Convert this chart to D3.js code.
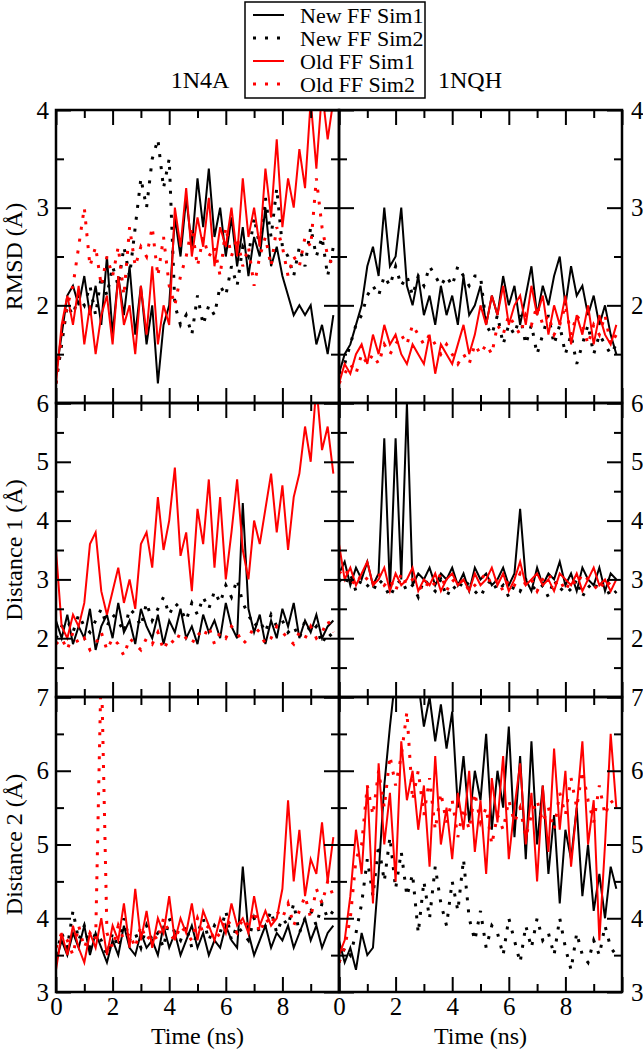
<!DOCTYPE html>
<html><head><meta charset="utf-8">
<script src="https://cdn.jsdelivr.net/npm/d3@7"></script>
<style>
body{margin:0;background:#fff}
svg{display:block}
text{font-family:"Liberation Serif","Times New Roman",serif;fill:#000}
</style>
</head><body>
<svg id="c" width="643" height="1050"></svg>
<script>
// ---------------- DATA ----------------
const times = [0,0.2,0.4,0.6,0.8,1.0,1.2,1.4,1.6,1.8,2.0,2.2,2.4,2.6,2.8,3.0,3.2,3.4,3.6,3.8,
  4.0,4.2,4.4,4.6,4.8,5.0,5.2,5.4,5.6,5.8,6.0,6.2,6.4,6.6,6.8,7.0,7.2,7.4,7.6,7.8,
  8.0,8.2,8.4,8.6,8.8,9.0,9.2,9.4,9.6,9.8];
const seriesNames = ["New FF Sim1","New FF Sim2","Old FF Sim1","Old FF Sim2"];
const seriesColors = ["#000000","#000000","#ff0000","#ff0000"];
const seriesDash = [null,"3,9",null,"3,9"];
const systems = ["1N4A","1NQH"];
const rowLabels = ["RMSD (Å)","Distance 1 (Å)","Distance 2 (Å)"];
const rowDomains = [[1,4],[1,6],[3,7]];
const rowTickLabels = [[2,3,4],[2,3,4,5,6],[3,4,5,6,7]];
const xTickLabels = [0,2,4,6,8];
const xLabel = "Time (ns)";

// RMSD 1N4A
const rmsd1N4A_new1 = [1.3,1.7,2.1,2.2,2.0,2.3,1.9,2.2,1.8,2.5, 1.7,2.3,1.9,2.4,1.7,2.2,1.6,2.0,1.2,1.8, 2.0,2.9,2.5,3.1,2.6,3.3,2.8,3.4,2.7,3.0, 2.5,2.9,2.4,2.8,2.3,2.7,2.5,3.0,2.4,2.6, 2.3,2.1,1.9,2.0,1.9,2.0,1.6,1.8,1.5,1.9];
const rmsd1N4A_new2 = [1.2,1.6,2.0,1.9,2.1,2.0,2.2,1.9,2.3,2.1, 2.4,2.2,2.6,2.3,2.8,3.3,3.0,3.5,3.7,3.2, 3.5,2.0,1.8,1.9,1.7,2.1,1.8,2.0,1.9,2.2, 2.1,2.4,2.2,2.6,2.5,2.9,2.6,3.1,2.7,3.2, 2.6,2.5,2.3,2.6,2.4,2.8,2.5,2.7,2.3,2.6];
const rmsd1N4A_old1 = [1.2,1.8,2.1,1.8,2.2,1.6,2.0,1.5,1.9,2.1, 1.6,2.3,1.8,2.0,1.5,2.2,1.7,2.4,1.6,2.0, 1.8,3.0,2.6,3.2,2.5,2.9,2.6,3.1,2.4,2.8, 2.6,3.0,2.5,3.3,2.7,3.0,2.6,3.4,2.9,3.7, 2.8,3.3,3.0,3.6,3.2,4.1,3.4,4.2,3.7,4.1];
const rmsd1N4A_old2 = [1.2,1.7,2.0,2.2,2.6,3.0,2.4,2.6,2.2,2.5, 2.3,2.6,2.1,2.8,2.4,2.6,2.5,2.8,2.3,2.7, 2.2,2.0,2.3,2.5,2.8,2.4,2.7,2.5,2.6,2.3, 2.8,2.5,2.7,2.4,2.6,2.2,2.5,2.7,2.4,2.8, 2.6,2.3,2.5,2.4,2.7,2.6,3.3,2.8,2.5,2.4];
// RMSD 1NQH
const rmsd1NQH_new1 = [1.3,1.5,1.6,1.8,2.0,2.4,2.6,2.3,3.0,2.4, 2.5,3.0,2.2,2.0,2.3,1.9,2.1,1.8,2.2,1.9, 2.1,1.8,2.3,1.9,2.0,2.2,1.8,2.1,1.9,2.3, 2.0,2.2,1.8,2.1,2.4,1.9,2.2,2.0,2.3,2.5, 2.0,2.4,2.1,2.2,1.9,2.1,1.8,2.0,1.7,1.5];
const rmsd1NQH_new2 = [1.3,1.4,1.6,1.8,1.9,2.1,2.2,2.1,2.3,2.2, 2.4,2.2,2.3,2.1,2.3,2.2,2.4,2.3,2.2,2.3, 2.2,2.4,2.3,2.2,2.3,2.3,1.8,1.7,1.9,1.6, 1.8,1.7,1.9,1.6,1.8,1.5,1.7,1.9,1.6,1.8, 1.5,1.7,1.4,1.6,1.8,1.5,1.7,1.6,1.5,1.6];
const rmsd1NQH_old1 = [1.2,1.4,1.3,1.5,1.6,1.4,1.7,1.5,1.8,1.6, 1.7,1.5,1.4,1.6,1.5,1.4,1.7,1.3,1.6,1.5, 1.4,1.6,1.8,1.5,1.7,2.0,1.8,2.1,1.9,2.2, 1.8,2.0,2.1,1.8,2.2,1.9,2.1,1.7,2.0,1.8, 2.1,1.6,1.9,1.7,2.0,1.6,1.9,1.7,1.6,1.8];
const rmsd1NQH_old2 = [1.2,1.3,1.4,1.3,1.5,1.4,1.5,1.4,1.6,1.5, 1.6,1.7,1.6,1.8,1.7,1.6,1.7,1.6,1.5,1.6, 1.5,1.4,1.5,1.4,1.6,1.5,1.6,1.5,1.8,1.7, 1.9,1.8,1.7,1.9,1.8,2.0,1.8,1.9,1.7,1.8, 2.0,1.7,1.9,1.8,1.6,1.8,1.7,1.9,1.6,1.7];
// Distance 1 1N4A
const dist1_1N4A_new1 = [2.3,2.0,2.4,1.9,2.2,2.0,2.5,1.8,2.2,2.4, 2.0,2.6,2.1,2.3,1.9,2.5,2.2,2.0,2.4,1.9, 2.3,2.1,2.5,2.0,2.2,1.9,2.4,2.1,2.3,2.0, 2.6,2.2,2.0,4.3,2.5,2.1,2.4,1.9,2.3,2.0, 2.5,2.2,2.6,2.0,2.3,2.1,2.4,2.0,2.2,2.3];
const dist1_1N4A_new2 = [2.0,2.2,2.3,2.1,2.4,2.2,2.1,2.3,2.5,2.2, 2.4,2.3,2.1,2.5,2.4,2.2,2.6,2.3,2.5,2.7, 2.4,2.6,2.5,2.3,2.6,2.4,2.7,2.5,2.8,2.6, 2.9,2.7,3.0,2.6,2.4,2.2,2.3,2.1,2.4,2.2, 2.3,2.1,2.2,2.0,2.3,2.1,2.2,1.9,2.1,2.0];
const dist1_1N4A_old1 = [3.5,2.2,2.0,2.4,2.2,2.6,3.6,3.8,2.8,2.4, 2.8,3.2,2.6,3.0,2.5,3.6,3.8,3.2,4.4,3.5, 4.0,4.9,3.4,3.8,2.8,4.2,3.6,4.7,3.2,4.4, 3.0,3.8,4.7,3.5,3.0,4.0,3.6,4.2,4.8,3.8, 4.6,3.5,4.4,4.8,5.6,5.0,6.3,5.2,5.6,4.8];
const dist1_1N4A_old2 = [1.9,2.0,1.8,2.1,1.9,2.0,1.8,1.9,2.1,1.8, 2.0,1.9,1.7,2.0,1.9,1.8,2.0,1.9,2.1,1.8, 2.0,1.9,2.1,2.0,1.9,2.1,2.0,2.2,1.9,2.1, 2.0,2.2,2.1,1.9,2.0,2.2,2.1,1.9,2.0,2.2, 2.1,2.0,1.9,2.1,2.0,2.2,2.0,2.1,2.3,2.1];
// Distance 1 1NQH
const dist1_1NQH_new1 = [3.1,3.3,2.9,3.2,3.0,3.3,2.9,3.1,5.4,2.8, 5.4,3.0,6.0,2.9,3.1,3.0,3.2,2.9,3.1,3.0, 3.2,2.9,3.1,2.8,3.2,3.0,3.1,2.9,3.0,3.2, 2.9,3.1,4.2,3.0,2.8,3.2,2.9,3.1,3.0,3.3, 2.9,3.1,2.8,3.2,3.0,2.9,3.2,2.8,3.1,3.0];
const dist1_1NQH_new2 = [3.0,2.9,3.1,2.8,3.0,2.9,2.8,3.0,2.9,2.7, 2.9,3.0,2.8,2.9,2.7,3.0,2.9,2.8,3.0,2.7, 2.9,2.8,3.0,2.9,2.8,2.7,2.9,3.0,2.8,2.9, 2.7,2.9,2.8,3.0,2.9,2.8,2.9,2.7,3.0,2.8, 2.9,2.8,3.0,2.7,2.9,2.8,3.0,2.9,2.7,2.8];
const dist1_1NQH_old1 = [3.6,3.0,3.2,2.9,3.1,3.3,2.9,3.0,3.2,2.8, 3.1,2.9,3.0,3.2,2.8,3.0,2.9,3.1,2.8,3.0, 3.1,2.9,3.0,2.8,3.1,2.9,3.0,3.2,2.9,3.1, 2.8,3.0,3.3,2.9,3.0,3.1,2.9,3.0,2.8,3.1, 3.0,2.9,3.1,2.8,3.0,3.2,2.9,3.0,2.8,3.0];
const dist1_1NQH_old2 = [3.1,3.2,3.0,2.9,3.1,3.0,2.9,3.1,2.9,3.0, 2.8,3.1,2.9,3.0,2.9,2.8,3.0,2.9,3.1,2.8, 3.0,2.9,3.0,2.8,2.9,3.0,3.1,2.9,3.0,2.8, 3.0,2.9,3.1,2.9,3.0,2.8,3.0,3.1,2.9,3.0, 2.8,3.0,2.9,3.1,3.0,2.9,2.8,3.0,2.9,2.9];
// Distance 2 1N4A
const dist2_1N4A_new1 = [3.4,3.7,3.5,3.8,3.6,3.9,3.5,3.8,3.6,3.4, 3.7,3.5,3.9,3.6,3.5,3.8,3.6,3.7,3.5,3.9, 3.6,3.8,3.5,3.7,3.9,3.6,3.8,3.5,3.7,3.6, 3.9,3.7,3.6,4.7,3.8,3.5,3.7,3.9,3.6,3.8, 3.7,3.9,3.6,3.8,4.0,3.7,3.9,3.6,3.8,3.9];
const dist2_1N4A_new2 = [3.5,3.8,3.6,4.1,3.7,3.9,3.6,3.8,3.7,3.5, 3.8,3.6,4.0,3.7,3.8,3.6,3.9,3.7,3.8,3.6, 4.0,3.8,3.7,3.9,3.6,3.8,4.0,3.7,3.9,3.8, 4.1,3.7,3.9,3.8,3.7,4.0,3.8,3.9,4.1,3.8, 4.0,3.9,4.2,3.8,4.0,4.1,3.9,4.2,4.0,4.1];
const dist2_1N4A_old1 = [3.3,3.8,3.5,3.9,3.6,3.4,3.8,3.6,4.0,3.5, 3.9,3.7,4.2,3.6,4.4,3.7,4.1,3.6,4.0,3.8, 4.3,3.7,4.0,3.8,4.2,3.7,4.1,3.9,3.7,4.0, 3.8,4.2,3.9,4.0,3.8,4.3,3.9,4.1,3.9,4.0, 4.4,5.6,4.5,5.2,4.3,4.8,4.6,5.3,4.5,5.1];
const dist2_1N4A_old2 = [3.6,3.8,3.7,3.5,3.9,3.6,3.8,3.7,7.5,3.8, 3.6,3.9,3.7,3.8,3.6,3.9,3.7,3.8,3.7,4.0, 3.8,3.7,3.9,3.8,3.7,4.0,3.8,3.9,3.7,3.8, 4.0,3.9,3.8,4.0,3.9,4.1,3.8,4.0,3.9,4.1, 4.0,4.2,3.9,4.1,4.3,4.0,4.4,4.2,4.5,4.3];
// Distance 2 1NQH
const dist2_1NQH_new1 = [3.7,3.4,3.6,3.3,3.8,3.5,3.6,4.6,5.8,6.6, 7.3,7.5,7.1,7.4,7.2,6.6,7.0,6.4,6.9,6.3, 6.8,5.5,6.2,5.3,6.0,5.6,6.5,5.2,6.0,5.5, 6.6,5.1,6.2,4.8,6.4,5.0,5.8,4.6,5.4,4.2, 5.2,4.8,5.5,4.3,5.0,4.1,4.6,4.0,4.7,4.4];
const dist2_1NQH_new2 = [3.4,3.6,3.5,3.8,4.2,4.8,4.3,5.0,4.5,5.1, 4.4,4.9,4.3,4.6,3.8,4.5,4.0,4.7,4.2,3.9, 4.5,4.1,4.8,4.0,3.7,4.1,3.6,3.9,3.8,3.5, 4.0,3.7,3.4,3.9,3.6,4.0,3.7,3.8,3.5,4.0, 3.6,3.3,3.8,3.5,3.4,3.7,3.5,3.9,3.6,3.5];
const dist2_1NQH_old1 = [3.5,3.7,4.3,5.2,4.6,5.8,4.2,6.1,5.0,5.7, 4.5,6.4,5.6,6.0,5.2,5.8,4.7,6.2,5.0,5.5, 4.8,5.7,5.2,6.0,4.9,5.6,4.6,5.9,5.3,6.2, 4.8,5.5,6.1,5.0,5.7,4.5,5.8,4.9,6.3,5.2, 6.0,4.7,5.5,6.4,5.0,5.6,3.7,5.0,6.5,5.5];
const dist2_1NQH_old2 = [3.4,3.6,4.0,4.8,5.0,5.8,5.4,6.0,5.5,6.2, 5.8,6.2,6.8,5.6,6.0,5.4,5.9,5.2,5.7,5.3, 5.6,5.1,5.5,5.2,5.7,5.3,5.5,5.0,5.4,5.2, 5.6,5.3,5.5,5.1,5.4,5.6,5.3,5.5,5.2,5.7, 5.4,5.9,5.5,6.0,5.6,5.3,5.8,5.4,5.6,5.5];

// panels [row][col] -> four series
const panelSeries = [
  [[rmsd1N4A_new1,rmsd1N4A_new2,rmsd1N4A_old1,rmsd1N4A_old2],
   [rmsd1NQH_new1,rmsd1NQH_new2,rmsd1NQH_old1,rmsd1NQH_old2]],
  [[dist1_1N4A_new1,dist1_1N4A_new2,dist1_1N4A_old1,dist1_1N4A_old2],
   [dist1_1NQH_new1,dist1_1NQH_new2,dist1_1NQH_old1,dist1_1NQH_old2]],
  [[dist2_1N4A_new1,dist2_1N4A_new2,dist2_1N4A_old1,dist2_1N4A_old2],
   [dist2_1NQH_new1,dist2_1NQH_new2,dist2_1NQH_old1,dist2_1NQH_old2]]
];

// ---------------- LAYOUT ----------------
const colX = [[56,339],[339,622]];
const rowY = [[403,110],[697,403],[992,697]];
const svg = d3.select("#c");
const FS_TICK = 25, FS_LAB = 24;

const xScales = colX.map(r => d3.scaleLinear().domain([0,10]).range(r));
const yScales = rowDomains.map((d,i) => d3.scaleLinear().domain(d).range(rowY[i]));

const defs = svg.append("defs");

function styleAxis(g, w){
  g.select(".domain").remove();
  g.selectAll("line").attr("stroke","#000").attr("stroke-width",w||2);
  g.attr("font-family",null).attr("font-size",null);
}

for (let r=0;r<3;r++){
  for (let c=0;c<2;c++){
    const x = xScales[c], y = yScales[r];
    const x0=colX[c][0], x1=colX[c][1], y0=rowY[r][1], y1=rowY[r][0];
    const id = `clip${r}${c}`;
    defs.append("clipPath").attr("id",id).append("rect")
      .attr("x",x0).attr("y",y0).attr("width",x1-x0).attr("height",y1-y0);

    const line = d3.line()
      .defined((v,i)=> times[i]!==undefined)
      .x((v,i)=>x(times[i])).y(v=>y(v));
    const g = svg.append("g").attr("clip-path",`url(#${id})`);
    panelSeries[r][c].forEach((arr,k)=>{
      g.append("path").datum(arr)
        .attr("d",line)
        .attr("fill","none")
        .attr("stroke",seriesColors[k])
        .attr("stroke-width", seriesDash[k] ? 3 : 2)
        .attr("stroke-dasharray",seriesDash[k])
        .attr("stroke-linejoin","miter")
        .attr("stroke-miterlimit",4);
    });

    const [ya,yb] = rowDomains[r];
    const yMajor = d3.range(ya, yb+0.001, 1);
    const yMinor = d3.range(ya+0.5, yb, 1);
    const xMajor = [0,2,4,6,8,10], xMinor=[1,3,5,7,9];

    [[d3.axisBottom,y1],[d3.axisTop,y0]].forEach(([ax,yy])=>{
      svg.append("g").attr("transform",`translate(0,${yy})`)
        .call(ax(x).tickValues(xMajor).tickSize(-15).tickFormat("")).call(styleAxis);
      svg.append("g").attr("transform",`translate(0,${yy})`)
        .call(ax(x).tickValues(xMinor).tickSize(-8).tickFormat("")).call(styleAxis);
    });
    [[d3.axisLeft,x0],[d3.axisRight,x1]].forEach(([ax,xx])=>{
      svg.append("g").attr("transform",`translate(${xx},0)`)
        .call(ax(y).tickValues(yMajor).tickSize(-15).tickFormat("")).call(styleAxis);
      svg.append("g").attr("transform",`translate(${xx},0)`)
        .call(ax(y).tickValues(yMinor).tickSize(-8).tickFormat("")).call(styleAxis);
    });

    svg.append("rect").attr("x",x0).attr("y",y0).attr("width",x1-x0).attr("height",y1-y0)
      .attr("fill","none").attr("stroke","#000").attr("stroke-width",2.5);

    const lab = svg.append("g");
    if (c===0){
      lab.attr("transform",`translate(${x0},0)`)
        .call(d3.axisLeft(y).tickValues(rowTickLabels[r]).tickSize(0).tickPadding(7).tickFormat(d3.format("d")));
    } else {
      lab.attr("transform",`translate(${x1},0)`)
        .call(d3.axisRight(y).tickValues(rowTickLabels[r]).tickSize(0).tickPadding(9).tickFormat(d3.format("d")));
    }
    lab.select(".domain").remove();
    lab.attr("font-family",null).attr("font-size",null);
    lab.selectAll("text").style("font-size",FS_TICK+"px");

    if (r===2){
      const xl = svg.append("g").attr("transform",`translate(0,${y1})`)
        .call(d3.axisBottom(x).tickValues(xTickLabels).tickSize(0).tickPadding(5).tickFormat(d3.format("d")));
      xl.select(".domain").remove();
      xl.attr("font-family",null).attr("font-size",null);
      xl.selectAll("text").style("font-size",FS_TICK+"px");
      svg.append("text").attr("x",(x0+x1)/2).attr("y",1044)
        .attr("text-anchor","middle").style("font-size",FS_LAB+"px").text(xLabel);
    }
  }
  const yc = (rowY[r][0]+rowY[r][1])/2;
  svg.append("text").attr("transform",`translate(22,${yc}) rotate(-90)`)
    .attr("text-anchor","middle").style("font-size",FS_LAB+"px").text(rowLabels[r]);
}

svg.append("text").attr("x",200).attr("y",88).attr("text-anchor","middle").style("font-size",FS_LAB+"px").text(systems[0]);
svg.append("text").attr("x",470).attr("y",88).attr("text-anchor","middle").style("font-size",FS_LAB+"px").text(systems[1]);

const lg = svg.append("g");
lg.append("rect").attr("x",245).attr("y",2).attr("width",180).attr("height",96)
  .attr("fill","#fff").attr("stroke","#000").attr("stroke-width",1.5);
const legY = d3.scalePoint().domain(seriesNames).range([15,84]);
seriesNames.forEach((n,k)=>{
  const yy = legY(n);
  lg.append("line").attr("x1",253).attr("x2",284).attr("y1",yy).attr("y2",yy)
    .attr("stroke",seriesColors[k]).attr("stroke-width",seriesDash[k]?3:2)
    .attr("stroke-dasharray",seriesDash[k]);
  lg.append("text").attr("x",300).attr("y",yy).attr("dy","0.35em")
    .style("font-size","22px").text(n);
});
</script>
</body></html>
